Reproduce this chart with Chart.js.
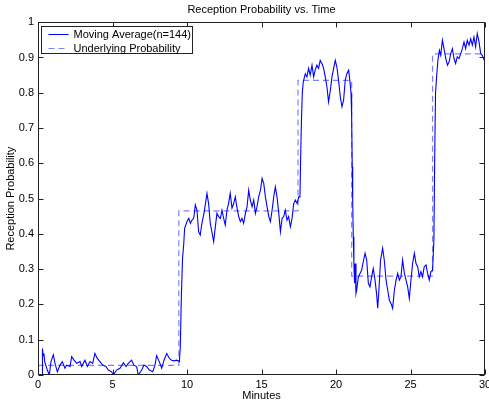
<!DOCTYPE html>
<html>
<head>
<meta charset="utf-8">
<script src="https://cdn.jsdelivr.net/npm/chart.js@4/dist/chart.umd.min.js"></script>
<style>
  html, body { margin: 0; padding: 0; background: #fff; }
  #wrap { width: 489px; height: 404px; }
</style>
</head>
<body>
<div id="wrap"><canvas id="chart_reception" width="489" height="404"></canvas></div>
<script>
// moving average (n=144)
var maTimes = [0.27, 0.30, 0.35, 0.40, 0.45, 0.52, 0.62, 0.76, 0.87, 1.03, 1.14, 1.30, 1.48, 1.63, 1.81, 1.92,
  2.15, 2.26, 2.42, 2.60, 2.82, 2.93, 3.15, 3.31, 3.49, 3.67, 3.82, 3.98, 4.16, 4.34, 4.56, 4.72, 4.94,
  5.05, 5.28, 5.50, 5.73, 5.91, 6.06, 6.28, 6.44, 6.62, 6.73, 6.96, 7.11, 7.29, 7.47, 7.70, 7.85, 7.96,
  8.14, 8.30, 8.46, 8.64, 8.82, 8.97, 9.13, 9.31, 9.49, 9.55, 9.62, 9.70, 9.78, 9.84, 10.00, 10.12, 10.23,
  10.34, 10.45, 10.56, 10.67, 10.78, 10.89, 11.00, 11.16, 11.34, 11.45, 11.56, 11.67, 11.79, 11.90, 12.01,
  12.12, 12.24, 12.35, 12.46, 12.57, 12.68, 12.79, 12.90, 13.02, 13.13, 13.24, 13.36, 13.47, 13.58, 13.69,
  13.80, 13.92, 14.03, 14.14, 14.25, 14.37, 14.48, 14.59, 14.70, 14.81, 14.93, 15.04, 15.15, 15.26, 15.37,
  15.49, 15.60, 15.71, 15.82, 15.93, 16.04, 16.16, 16.27, 16.38, 16.49, 16.60, 16.71, 16.82, 16.94, 17.05,
  17.16, 17.27, 17.39, 17.50, 17.58, 17.62, 17.68, 17.74, 17.80, 17.94, 18.05, 18.16, 18.27, 18.39, 18.50,
  18.60, 18.72, 18.83, 18.94, 19.06, 19.17, 19.28, 19.39, 19.50, 19.62, 19.73, 19.84, 19.95, 20.06, 20.17,
  20.29, 20.40, 20.51, 20.62, 20.73, 20.85, 20.95, 21.01, 21.05, 21.09, 21.12, 21.16, 21.20, 21.25, 21.28,
  21.34, 21.39, 21.50, 21.61, 21.72, 21.83, 21.95, 22.06, 22.17, 22.28, 22.39, 22.50, 22.62, 22.73, 22.80,
  22.88, 22.99, 23.13, 23.24, 23.36, 23.47, 23.58, 23.69, 23.80, 23.92, 24.03, 24.14, 24.25, 24.36, 24.47,
  24.59, 24.70, 24.81, 24.92, 25.03, 25.14, 25.26, 25.37, 25.48, 25.59, 25.70, 25.81, 25.92, 26.04, 26.15,
  26.26, 26.37, 26.48, 26.57, 26.62, 26.68, 26.76, 26.85, 26.94, 27.03, 27.14, 27.25, 27.37, 27.48, 27.59,
  27.70, 27.81, 27.92, 28.03, 28.14, 28.26, 28.37, 28.48, 28.59, 28.70, 28.81, 28.93, 29.04, 29.15, 29.26,
  29.37, 29.48, 29.60, 29.71, 29.82, 29.95, 30.00];
var maValues = [0.000, 0.075, 0.055, 0.061, 0.038, 0.028, 0.015, 0.000, 0.038, 0.057, 0.033, 0.009, 0.028, 0.038, 0.019, 0.028,
  0.024, 0.052, 0.042, 0.033, 0.038, 0.024, 0.042, 0.024, 0.038, 0.033, 0.061, 0.047, 0.038, 0.028, 0.024, 0.014, 0.009,
  0.000, 0.014, 0.019, 0.035, 0.024, 0.033, 0.042, 0.028, 0.024, 0.000, 0.014, 0.028, 0.024, 0.014, 0.009, 0.028, 0.055,
  0.038, 0.019, 0.042, 0.061, 0.047, 0.042, 0.040, 0.042, 0.038, 0.080, 0.220, 0.330, 0.370, 0.416, 0.435, 0.444, 0.430,
  0.439, 0.444, 0.482, 0.467, 0.406, 0.397, 0.430, 0.463, 0.515, 0.486, 0.430, 0.406, 0.378, 0.420, 0.458,
  0.449, 0.444, 0.467, 0.444, 0.425, 0.467, 0.486, 0.515, 0.473, 0.486, 0.505, 0.473, 0.449, 0.435, 0.444,
  0.430, 0.458, 0.477, 0.524, 0.496, 0.477, 0.496, 0.458, 0.477, 0.505, 0.524, 0.557, 0.543, 0.505, 0.477,
  0.449, 0.435, 0.467, 0.505, 0.533, 0.505, 0.458, 0.406, 0.444, 0.449, 0.467, 0.439, 0.449, 0.420, 0.444,
  0.486, 0.496, 0.486, 0.505, 0.505, 0.600, 0.720, 0.800, 0.830, 0.854, 0.845, 0.869, 0.850, 0.878, 0.845,
  0.864, 0.878, 0.869, 0.892, 0.882, 0.869, 0.845, 0.817, 0.774, 0.807, 0.845, 0.869, 0.892, 0.873, 0.836,
  0.788, 0.760, 0.779, 0.836, 0.854, 0.864, 0.826, 0.798, 0.732, 0.590, 0.496, 0.392, 0.316, 0.260, 0.316,
  0.231, 0.241, 0.278, 0.288, 0.297, 0.321, 0.345, 0.326, 0.260, 0.250, 0.278, 0.302, 0.269, 0.227, 0.189,
  0.241, 0.326, 0.359, 0.326, 0.269, 0.241, 0.212, 0.203, 0.189, 0.241, 0.269, 0.288, 0.269, 0.278, 0.326,
  0.288, 0.269, 0.250, 0.217, 0.269, 0.316, 0.345, 0.316, 0.307, 0.278, 0.293, 0.278, 0.307, 0.312, 0.288,
  0.269, 0.293, 0.297, 0.382, 0.600, 0.800, 0.850, 0.897, 0.920, 0.906, 0.949, 0.925, 0.897, 0.878, 0.887,
  0.911, 0.925, 0.897, 0.883, 0.902, 0.897, 0.911, 0.925, 0.944, 0.925, 0.949, 0.935, 0.953, 0.935, 0.958,
  0.930, 0.968, 0.944, 0.911, 0.906, 0.892, 0.890];

// underlying probability, a step function
var probTimes = [0, 9.45, 17.45, 21.05, 26.48, 30];
var probLevels = [0.027, 0.465, 0.835, 0.28, 0.91, 0.91];

var xTicks = [0, 5, 10, 15, 20, 25, 30];
var yTicks = [0, 0.1, 0.2, 0.3, 0.4, 0.5, 0.6, 0.7, 0.8, 0.9, 1];
var yTickLabels = ['0', '0.1', '0.2', '0.3', '0.4', '0.5', '0.6', '0.7', '0.8', '0.9', '1'];

var FONT = { family: "'Liberation Sans', Arial, sans-serif", size: 11 };

function toPoints(xs, ys) {
    return xs.map(function (x, i) { return { x: x, y: ys[i] }; });
}

// MATLAB style box with inward ticks and a framed legend
var boxPlugin = {
    id: 'matlabBox',
    afterDraw: function (chart) {
        var ctx = chart.ctx;
        var a = chart.chartArea;
        var sx = chart.scales.x, sy = chart.scales.y;
        var L = Math.round(a.left) + 0.5, R = Math.round(a.right) - 0.5;
        var T = Math.round(a.top) + 0.5, B = Math.round(a.bottom) - 0.5;
        ctx.save();
        ctx.strokeStyle = '#222';
        ctx.lineWidth = 1;
        ctx.strokeRect(L, T, R - L, B - T);
        ctx.beginPath();
        xTicks.forEach(function (v) {
            var p = Math.round(sx.getPixelForValue(v)) + 0.5;
            ctx.moveTo(p, B); ctx.lineTo(p, B - 5);
            ctx.moveTo(p, T); ctx.lineTo(p, T + 5);
        });
        yTicks.forEach(function (v) {
            var p = Math.round(sy.getPixelForValue(v)) + 0.5;
            ctx.moveTo(L, p); ctx.lineTo(L + 5, p);
            ctx.moveTo(R, p); ctx.lineTo(R - 5, p);
        });
        ctx.stroke();

        // legend
        var lx = L + 3, ly = T + 4, lw = 151, lh = 27;
        ctx.fillStyle = '#fff';
        ctx.fillRect(lx, ly, lw, lh);
        ctx.strokeStyle = '#222';
        ctx.strokeRect(lx, ly, lw, lh);
        ctx.font = FONT.size + 'px ' + FONT.family;
        ctx.textBaseline = 'middle';
        chart.data.datasets.forEach(function (ds, i) {
            var yy = Math.round(ly + 7 + i * 14) + 0.5;
            ctx.strokeStyle = ds.borderColor;
            ctx.setLineDash(ds.borderDash || []);
            ctx.beginPath();
            ctx.moveTo(lx + 7, yy);
            ctx.lineTo(lx + 27, yy);
            ctx.stroke();
            ctx.setLineDash([]);
            ctx.fillStyle = '#000';
            ctx.fillText(ds.label, lx + 32, yy);
        });
        ctx.restore();
    }
};

var ctx = document.getElementById('chart_reception').getContext('2d');
var chart = new Chart(ctx, {
    type: 'line',
    data: {
        datasets: [{
            label: 'Moving Average(n=144)',
            data: toPoints(maTimes, maValues),
            borderColor: '#0000ff',
            borderWidth: 1.1,
            pointRadius: 0,
            tension: 0
        }, {
            label: 'Underlying Probability',
            data: toPoints(probTimes, probLevels),
            stepped: 'before',
            borderColor: '#8080ff',
            borderDash: [6, 4],
            borderWidth: 1.2,
            pointRadius: 0
        }]
    },
    options: {
        responsive: false,
        animation: false,
        events: [],
        layout: { padding: { left: 0, right: 4, top: 0, bottom: 0 } },
        plugins: {
            legend: { display: false },
            tooltip: { enabled: false },
            title: {
                display: true,
                fullSize: false,
                text: 'Reception Probability vs. Time',
                color: '#000',
                font: { family: FONT.family, size: 11, weight: 'normal' },
                padding: { top: 3, bottom: 6 }
            }
        },
        scales: {
            x: {
                type: 'linear',
                min: 0,
                max: 30,
                grid: { display: false, drawTicks: false },
                border: { display: false },
                afterBuildTicks: function (s) { s.ticks = xTicks.map(function (v) { return { value: v }; }); },
                afterFit: function (s) { s.height = 29; s.paddingLeft = 0; s.paddingRight = 0; },
                ticks: { color: '#000', font: FONT, padding: 3, maxRotation: 0 },
                title: { display: true, text: 'Minutes', color: '#000', font: FONT, padding: { top: 0, bottom: 1 } }
            },
            y: {
                min: 0,
                max: 1,
                grid: { display: false, drawTicks: false },
                border: { display: false },
                afterBuildTicks: function (s) { s.ticks = yTicks.map(function (v) { return { value: v }; }); },
                afterFit: function (s) { s.width = 38; },
                ticks: {
                    color: '#000', font: FONT, padding: 4,
                    callback: function (v, i) { return yTickLabels[i]; }
                },
                title: { display: true, text: 'Reception Probability', color: '#000', font: FONT, padding: { top: 4, bottom: 0 } }
            }
        }
    },
    plugins: [boxPlugin]
});
</script>
</body>
</html>
